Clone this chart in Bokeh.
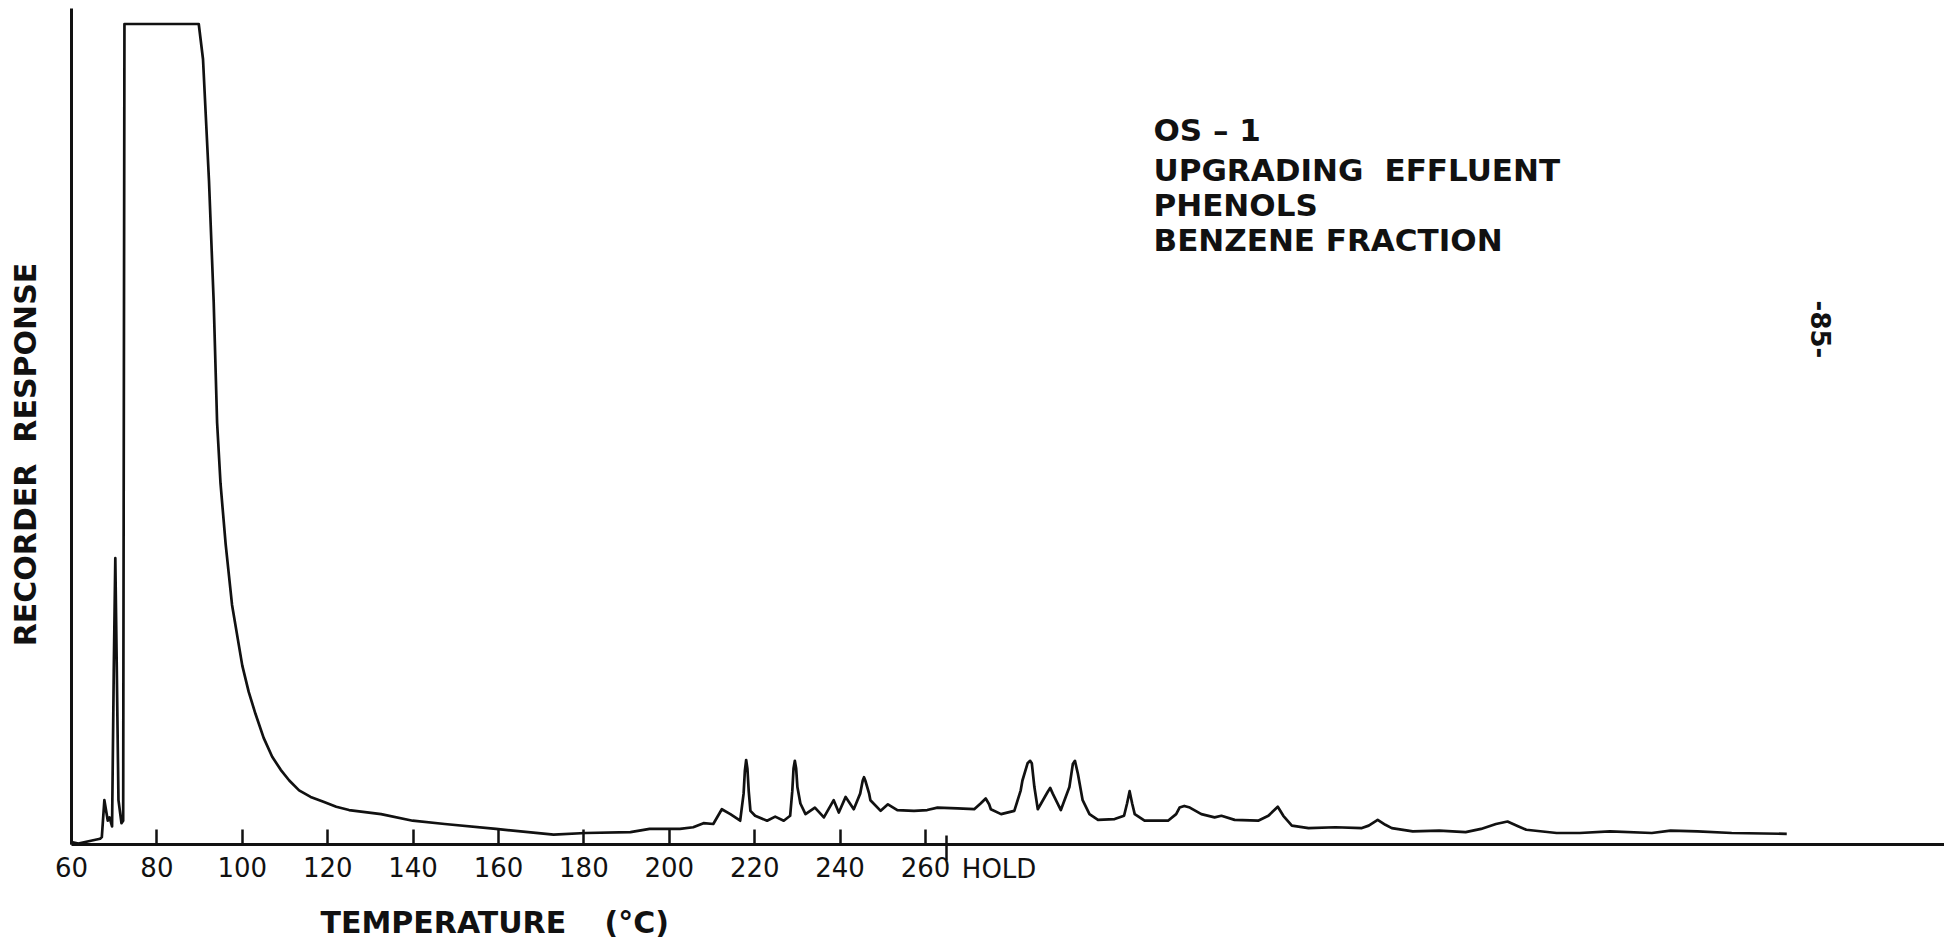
from bokeh.plotting import figure
from bokeh.models import Range1d, FixedTicker, Label, LinearAxis
from bokeh.embed import file_html
from bokeh.resources import INLINE
import math

# ---------------- data (temperature axis in deg C, response in % of full scale) ----------------
# early peaks and solvent front (pen goes off scale at 100)
early_temp = [60.0, 61.6, 64.0, 66.7, 67.1, 67.7, 68.5, 68.9, 69.5, 69.9, 70.26, 70.6, 71.0, 71.7, 72.1, 72.4]
early_resp = [0.3, 0.1, 0.4, 0.7, 0.9, 5.4, 2.9, 3.3, 2.2, 21.2, 34.9, 21.6, 5.4, 2.6, 2.9, 100.0]

# solvent tail
tail_temp = [89.8, 90.8, 92.2, 93.3, 94.1, 94.9, 96.1, 97.6, 100.0, 101.5, 103.1, 105.0, 107.0, 109.0, 111.0,
             113.3, 116.0, 119.0, 122.0, 125.0, 132.5, 139.9, 147.4, 159.4, 172.9, 180.4, 190.9, 195.4, 202.5]
tail_resp = [100.0, 95.7, 80.9, 66.1, 51.4, 44.0, 36.6, 29.2, 21.8, 18.6, 15.9, 13.0, 10.7, 9.1, 7.8,
             6.6, 5.8, 5.2, 4.6, 4.2, 3.7, 2.9, 2.5, 1.9, 1.2, 1.4, 1.5, 1.9, 1.9]

# phenol peaks during programmed run
phenol_temp = [205.6, 208.0, 210.3, 212.3, 214.3, 216.6, 217.4, 217.7, 218.0, 218.3, 218.6, 219.0, 220.1,
               222.9, 224.8, 226.8, 228.3, 228.8, 229.1, 229.4, 229.7, 230.0, 230.7, 231.9, 234.1, 236.2,
               238.5, 239.7, 241.3, 243.2, 244.7, 245.3, 245.6, 245.9, 246.8, 247.1, 249.5, 251.2, 253.4,
               257.3, 260.4, 262.8]
phenol_resp = [2.1, 2.6, 2.5, 4.3, 3.7, 2.9, 6.2, 9.0, 10.3, 9.2, 6.5, 4.1, 3.5,
               2.9, 3.4, 2.9, 3.5, 6.5, 9.3, 10.2, 9.3, 7.0, 5.0, 3.7, 4.5, 3.3,
               5.4, 3.9, 5.8, 4.3, 6.2, 7.8, 8.2, 7.8, 6.2, 5.4, 4.1, 4.9, 4.2,
               4.1, 4.2, 4.5]

# isothermal hold section
hold_temp = [267.5, 271.4, 272.9, 274.1, 274.9, 275.3, 277.7, 280.8, 282.3, 282.7, 283.9, 284.5, 284.9,
             285.5, 286.3, 288.6, 289.2, 289.8, 291.7, 293.7, 294.5, 295.0, 295.7, 296.8, 298.4, 300.4,
             304.3, 306.5, 307.2, 307.8, 308.4, 309.0, 311.3, 316.8, 318.7, 319.5, 320.6, 321.9, 324.6,
             327.7, 329.3, 332.4, 337.9, 340.3, 342.5, 343.8, 345.8, 349.7, 356.0, 362.2, 363.8, 365.9,
             367.7, 369.2, 374.1, 380.3, 386.5, 390.1, 393.6, 396.3, 398.9, 400.7, 407.8, 413.2, 420.3,
             430.1, 434.5, 440.8, 448.8, 461.7]
hold_resp = [4.4, 4.3, 5.0, 5.6, 4.9, 4.3, 3.7, 4.1, 6.6, 7.8, 9.9, 10.2, 9.9,
             7.0, 4.3, 6.4, 6.9, 6.2, 4.2, 7.0, 9.8, 10.2, 8.6, 5.4, 3.7, 3.0,
             3.1, 3.5, 5.0, 6.5, 5.0, 3.7, 2.9, 2.9, 3.7, 4.5, 4.7, 4.5, 3.7,
             3.3, 3.5, 3.0, 2.9, 3.5, 4.6, 3.5, 2.3, 2.0, 2.1, 2.0, 2.3, 3.0,
             2.4, 2.0, 1.6, 1.7, 1.5, 1.9, 2.5, 2.8, 2.2, 1.8, 1.4, 1.4, 1.6,
             1.4, 1.7, 1.6, 1.4, 1.3]

tick_values = [60, 80, 100, 120, 140, 160, 180, 200, 220, 240, 260]
hold_tick = 265.0

temperature = early_temp + tail_temp + phenol_temp + hold_temp
response = early_resp + tail_resp + phenol_resp + hold_resp

# ---------------- layout geometry (page pixels) ----------------
W, H = 1944, 946
AX_X, AX_Y = 71, 844          # page position of the axes corner
PX_PER_DEG = 4.27
PX_PER_UNIT = 8.205
T0 = 60.0

def dx(px):
    return T0 + (px - AX_X) / PX_PER_DEG

def dy(py):
    return (AX_Y - py) / PX_PER_UNIT

FONT = "DejaVu Sans"
INK = "#111111"

p = figure(width=W, height=H, min_border=0,
           x_range=Range1d(dx(0), dx(W)), y_range=Range1d(dy(H), dy(0)),
           x_axis_location=None, y_axis_location=None,
           output_backend="svg", toolbar_location=None)
p.outline_line_color = None
p.xgrid.visible = False
p.ygrid.visible = False
p.background_fill_color = "white"
p.border_fill_color = "white"

p.line(temperature, response, line_color=INK, line_width=2.7, line_join="round")

# x axis
xa = LinearAxis(fixed_location=0, bounds=(T0, dx(W)))
xa.ticker = FixedTicker(ticks=tick_values, minor_ticks=[hold_tick])
xa.axis_line_width = 3
xa.axis_line_color = INK
xa.major_tick_in = 15
xa.major_tick_out = 0
xa.major_tick_line_width = 2.5
xa.major_tick_line_color = INK
xa.minor_tick_in = 9
xa.minor_tick_out = 16
xa.minor_tick_line_width = 2.5
xa.minor_tick_line_color = INK
xa.major_label_text_font = FONT
xa.major_label_text_font_size = "26px"
xa.major_label_text_color = INK
xa.major_label_standoff = -4
p.add_layout(xa, "below")

# y axis (no ticks)
ya = LinearAxis(fixed_location=T0, bounds=(0, dy(8)))
ya.ticker = FixedTicker(ticks=[])
ya.axis_line_width = 3
ya.axis_line_color = INK
ya.major_tick_in = 0
ya.major_tick_out = 0
ya.minor_tick_in = 0
ya.minor_tick_out = 0
p.add_layout(ya, "left")

def add_text(text, x, y, size, angle=0.0, align="center", baseline="middle", bold=False, x_offset=0):
    p.add_layout(Label(x=x, y=y, text=text,
                       text_font=FONT, text_font_size=size, text_color=INK,
                       text_font_style="bold" if bold else "normal",
                       text_align=align, text_baseline=baseline, angle=angle,
                       x_offset=x_offset))

add_text("TEMPERATURE", dx(320), dy(922), "30px", align="left", bold=True)
add_text("(°C)", dx(604), dy(922), "30px", align="left", bold=True)
add_text("RECORDER\u00a0\u00a0RESPONSE", dx(25), dy(454), "30px", angle=math.pi / 2, bold=True)
add_text("HOLD", hold_tick, dy(868), "26px", align="left", x_offset=15)

BX = 1153
add_text("OS \u2013 1", dx(BX), dy(129), "31px", align="left", bold=True)
add_text("UPGRADING", dx(BX), dy(169), "31px", align="left", bold=True)
add_text("EFFLUENT", dx(1384), dy(169), "31px", align="left", bold=True)
add_text("PHENOLS", dx(BX), dy(204), "31px", align="left", bold=True)
add_text("BENZENE\u00a0FRACTION", dx(BX), dy(239), "31px", align="left", bold=True)

add_text("-85-", dx(1820), dy(329), "26px", angle=-math.pi / 2, bold=True)

open("out.html", "w").write(file_html(p, INLINE))
